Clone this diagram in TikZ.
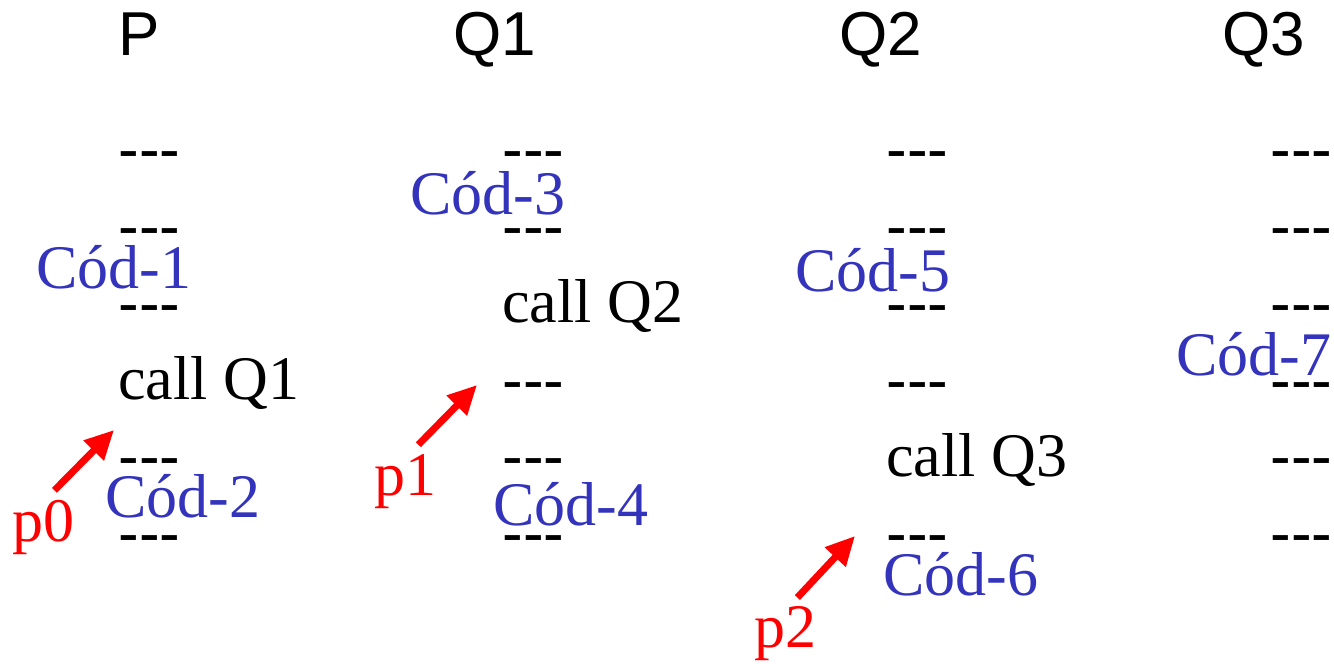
\documentclass[tikz,border=0pt]{standalone}
\usepackage{fontspec}
\setmainfont{Liberation Serif}
\newfontfamily\arialfont{Liberation Sans}
\usetikzlibrary{arrows.meta}
\definecolor{CodeBlue}{RGB}{51,51,187}
\definecolor{PtrRed}{RGB}{255,0,0}

\begin{document}
\begin{tikzpicture}[
x=0.5pt, y=-0.5pt,
font=\fontsize{31}{36}\selectfont,
txt/.style={inner sep=0pt, anchor=base west},
hdr/.style={txt, font=\fontsize{31}{36}\selectfont\arialfont},
dsh/.style={hdr},
instr/.style={txt},
cod/.style={txt, text=CodeBlue},
pc/.style={txt, text=PtrRed},
ptr/.style={-{Triangle[length=14.5pt,width=13.5pt]}, line width=3.5pt, draw=PtrRed}
]
\useasboundingbox (0,0) rectangle (1334,664);

% column headers
\node[hdr] (hP) at (118,55) {P};
\node[hdr] (hQ1) at (453,55) {Q1};
\node[hdr] (hQ2) at (839,55) {Q2};
\node[hdr] (hQ3) at (1222,55) {Q3};

% code lines
\foreach \r/\y in {1/170.5,2/247.5,3/324.5,5/477.5,6/554.5} \node[dsh] (dP\r) at (118,\y) {-{}-{}-};
\foreach \r/\y in {1/170.5,2/247.5,4/401.5,5/477.5,6/554.5} \node[dsh] (dQa\r) at (502,\y) {-{}-{}-};
\foreach \r/\y in {1/170.5,2/247.5,3/324.5,4/401.5,6/554.5} \node[dsh] (dQb\r) at (886,\y) {-{}-{}-};
\foreach \r/\y in {1/170.5,2/247.5,3/324.5,4/401.5,5/477.5,6/554.5} \node[dsh] (dQc\r) at (1270,\y) {-{}-{}-};

\node[instr] (cQ1) at (118,399) {call Q1};
\node[instr] (cQ2) at (502,322) {call Q2};
\node[instr] (cQ3) at (886,476) {call Q3};

% code fragments
\node[cod] (cod1) at (36,288) {Cód-1};
\node[cod] (cod2) at (105,517) {Cód-2};
\node[cod] (cod3) at (410,214) {Cód-3};
\node[cod] (cod4) at (493,525) {Cód-4};
\node[cod] (cod5) at (795,291) {Cód-5};
\node[cod] (cod6) at (883,595) {Cód-6};
\node[cod] (cod7) at (1176,375) {Cód-7};

% pointers
\node[pc] (p0) at (12,541) {p0};
\node[pc] (p1) at (374,495) {p1};
\node[pc] (p2) at (754,647) {p2};

\coordinate (h0) at (114,430);
\coordinate (h1) at (477,385);
\coordinate (h2) at (855,536);

\draw[ptr] ([shift={(11,-9)}]p0.north) -- (h0);
\draw[ptr] ([shift={(13,-9)}]p1.north) -- (h1);
\draw[ptr] ([shift={(12,-8)}]p2.north) -- (h2);
\end{tikzpicture}
\end{document}
